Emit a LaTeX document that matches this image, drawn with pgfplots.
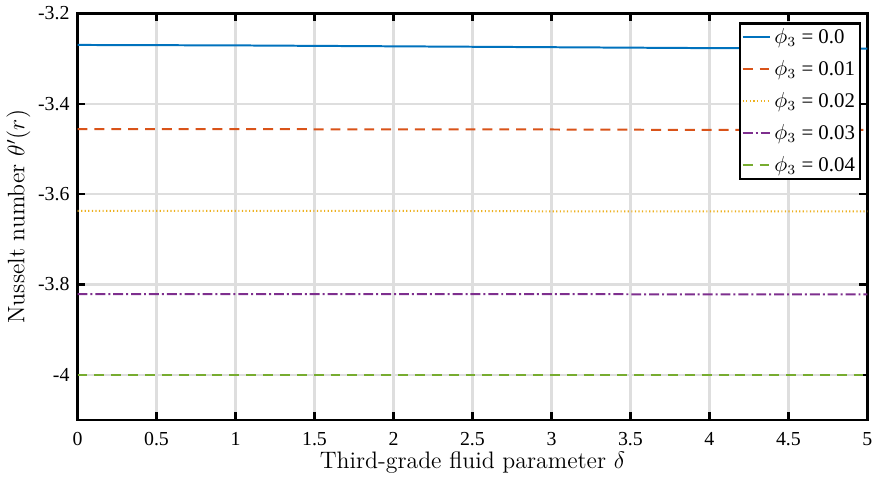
\documentclass[border=0pt]{standalone}
\usepackage{pgfplots}
\pgfplotsset{compat=1.18}
\usepackage{fontspec}
\newfontfamily\timesfont{Liberation Serif}
\definecolor{mblue}{rgb}{0,0.447,0.741}
\definecolor{morange}{rgb}{0.85,0.325,0.098}
\definecolor{myellow}{rgb}{0.929,0.694,0.125}
\definecolor{mpurple}{rgb}{0.494,0.184,0.556}
\definecolor{mgreen}{rgb}{0.466,0.674,0.188}
\begin{document}
\begin{tikzpicture}
\begin{axis}[
  scale only axis,
  width=398pt, height=205pt,
  xmin=0, xmax=5, ymin=-4.1, ymax=-3.2,
  xtick={0,0.5,...,5},
  ytick={-4,-3.8,-3.6,-3.4,-3.2},
  yticklabels={-4,-3.8,-3.6,-3.4,-3.2},
  /pgf/number format/assume math mode=true,
  tick align=inside,
  major tick length=4pt,
  tick style={black, line width=1.2pt},
  axis line style={black, line width=1.2pt},
  grid=major,
  major grid style={black!13, line width=1.2pt},
  ticklabel style={font=\timesfont\fontsize{10}{12}\selectfont},
  xticklabel style={yshift=-2.5pt},
  yticklabel style={xshift=-0.5pt},
  label style={font=\fontsize{12}{14}\selectfont},
  xlabel={Third-grade fluid parameter $\delta$},
  ylabel={Nusselt number $\theta'(r)$},
  xlabel style={yshift=4pt},
  ylabel style={yshift=-3pt},
  legend style={at={(0.992,0.978)}, anchor=north east, draw=black, line width=1.2pt,
    font=\timesfont\fontsize{10.5}{12}\selectfont, inner sep=1pt, row sep=4pt,
    nodes={inner sep=1.5pt}},
  legend cell align=left,
  legend image code/.code={\draw[#1, line width=1pt] (0pt,0pt) -- (14pt,0pt);},
]
\addplot[mblue, line width=1pt] coordinates {(0,-3.270) (1,-3.271) (2,-3.273) (3,-3.275) (4,-3.277) (5,-3.278)};
\addlegendentry{$\phi_3$ = 0.0}
\addplot[morange, line width=1pt, dash pattern=on 5pt off 3.5pt] coordinates {(0,-3.456) (1,-3.456) (2,-3.457) (3,-3.457) (4,-3.458) (5,-3.458)};
\addlegendentry{$\phi_3$ = 0.01}
\addplot[myellow, line width=1pt, dash pattern=on 0.6pt off 1.2pt] coordinates {(0,-3.637) (1,-3.637) (2,-3.637) (3,-3.638) (4,-3.638) (5,-3.638)};
\addlegendentry{$\phi_3$ = 0.02}
\addplot[mpurple, line width=1pt, dash pattern=on 5pt off 1.5pt on 1pt off 1.5pt] coordinates {(0,-3.821) (1,-3.821) (2,-3.821) (3,-3.821) (4,-3.822) (5,-3.822)};
\addlegendentry{$\phi_3$ = 0.03}
\addplot[mgreen, line width=1pt, dash pattern=on 5pt off 3.5pt] coordinates {(0,-4.0) (1,-4.0) (2,-4.0) (3,-4.0) (4,-4.0) (5,-4.0)};
\addlegendentry{$\phi_3$ = 0.04}
\end{axis}
\end{tikzpicture}
\end{document}
